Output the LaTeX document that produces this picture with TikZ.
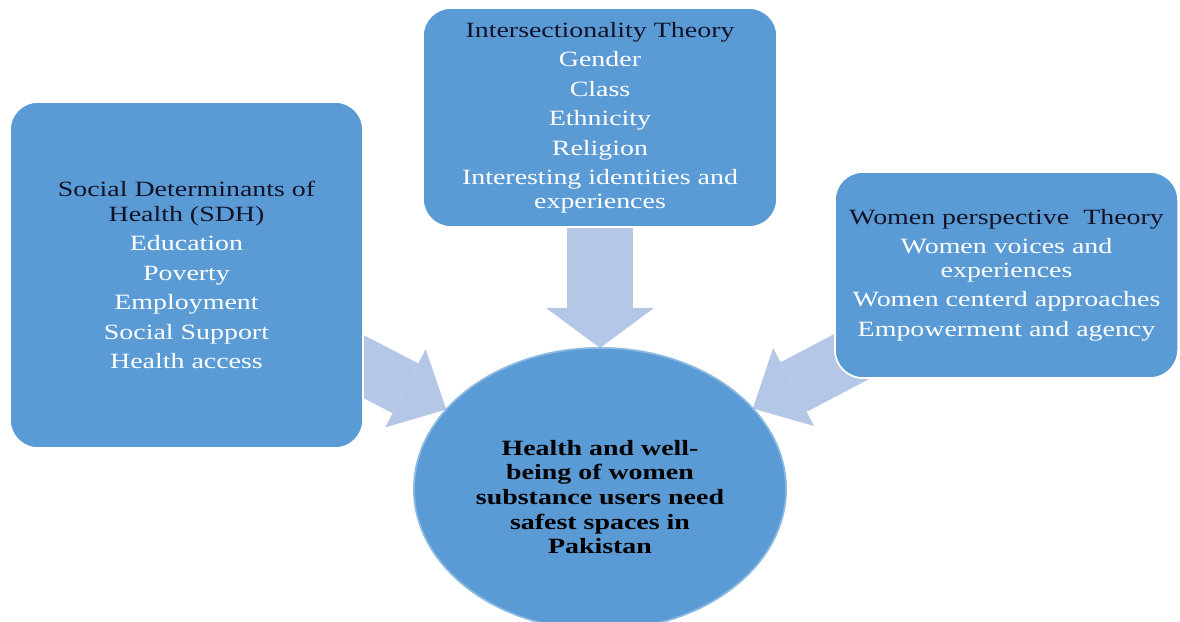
\documentclass[tikz,border=0pt]{standalone}
\usepackage{fontspec}
\setmainfont{Liberation Serif}[FakeStretch=1.28]
\usetikzlibrary{positioning, shapes.geometric, arrows.meta, backgrounds}
\definecolor{boxblue}{RGB}{91,155,213}
\definecolor{arrowblue}{RGB}{180,199,231}
\definecolor{headtext}{RGB}{18,18,40}
\newcommand{\hd}[1]{\textcolor{headtext}{#1}}

\begin{document}
\begin{tikzpicture}[x=0.01cm, y=-0.01cm,
  box/.style={draw=white, line width=0.5pt, fill=boxblue, text=white, align=center,
    inner sep=0pt, rounded corners=0.28cm, font=\fontsize{6.2}{6.6}\selectfont},
  goalshape/.style={ellipse, draw=boxblue!70!white, line width=0.5pt, fill=boxblue,
    inner sep=0pt, outer sep=0pt, minimum width=3.72cm, minimum height=2.82cm},
  goaltext/.style={align=center, text=black, font=\fontsize{6.2}{7}\selectfont\bfseries},
  flow/.style={draw=arrowblue, line width=0.56cm, -{Triangle[width=0.88cm, length=0.46cm, line width=0pt]}},
  downflow/.style={draw=arrowblue, line width=0.65cm, -{Triangle[width=1.08cm, length=0.40cm, line width=0pt]}}]
  \useasboundingbox (0,0) rectangle (1180,622);

  % the three theory boxes
  \node[box, minimum width=3.53cm, minimum height=3.46cm] (sdh) at (186.5,275)
    {\hd{Social Determinants of}\\[0.5pt]\hd{Health (SDH)}\\[1.8pt]Education\\[1.8pt]Poverty\\[1.8pt]Employment\\[1.8pt]Social Support\\[1.8pt]Health access};
  \node[box, minimum width=3.54cm, minimum height=2.19cm] (inter) at (600,117.5)
    {\hd{Intersectionality Theory}\\[1.8pt]Gender\\[1.8pt]Class\\[1.8pt]Ethnicity\\[1.8pt]Religion\\[1.8pt]Interesting identities and\\experiences};
  \node[box, minimum width=3.43cm, minimum height=2.06cm] (women) at (1006.5,275)
    {\hd{Women perspective\ \ Theory}\\[1.8pt]Women voices and\\experiences\\[1.8pt]Women centerd approaches\\[1.8pt]Empowerment and agency};

  % outcome
  \node[goalshape] (goal) at (600,489) {};
  \node[goaltext] (goaltxt) at ([yshift=-0.08cm]goal.center)
    {Health and well-\\being of women\\substance users need\\safest spaces in\\Pakistan};

  \begin{scope}[on background layer]
  \path
    (sdh.center) edge[flow] (goal)
    (women.center) edge[flow] (goal)
    (inter.south) edge[downflow] (goal.north);
  \end{scope}
\end{tikzpicture}
\end{document}
